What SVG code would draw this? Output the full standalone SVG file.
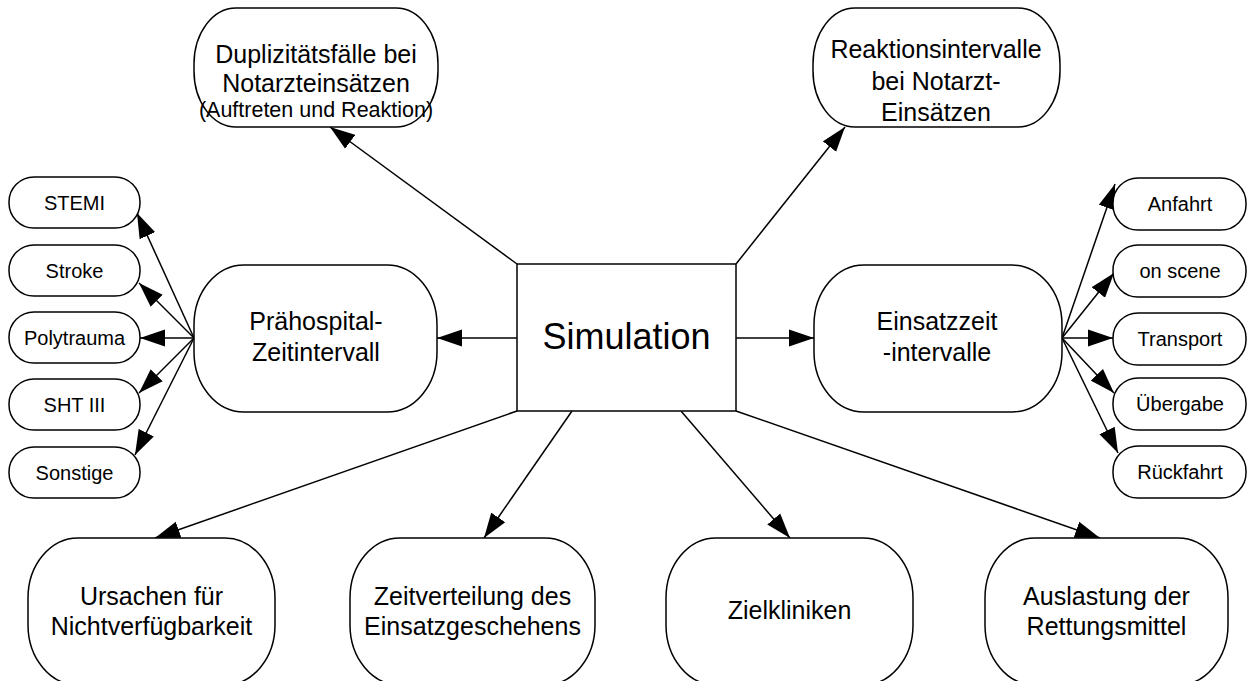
<svg xmlns="http://www.w3.org/2000/svg" width="1247" height="681" viewBox="0 0 1247 681">
<defs>
<style>
.n{fill:#fff;stroke:#000;stroke-width:1.5}
.t{font-family:"Liberation Sans",Arial,sans-serif;fill:#000;text-anchor:middle}
.b{font-size:25px}
.s{font-size:20px}
.c{stroke:#000;stroke-width:1.5;fill:none;marker-end:url(#ah)}
</style>
<marker id="ah" markerUnits="userSpaceOnUse" markerWidth="25" markerHeight="18" refX="25" refY="9" orient="auto">
<path d="M0,0.5 L25,9 L0,17.5 z" fill="#000"/>
</marker>
</defs>
<rect width="1247" height="681" fill="#fff"/>
<g id="connectors">
<line class="c" x1="517" y1="264" x2="330" y2="127"/>
<line class="c" x1="736" y1="264" x2="845" y2="127"/>
<line class="c" x1="517" y1="338" x2="437" y2="338"/>
<line class="c" x1="736" y1="338" x2="814" y2="338"/>
<line class="c" x1="517" y1="411" x2="155" y2="538"/>
<line class="c" x1="572" y1="411" x2="484" y2="538"/>
<line class="c" x1="681" y1="411" x2="790" y2="538"/>
<line class="c" x1="736" y1="411" x2="1100" y2="538"/>
<line class="c" x1="194" y1="338" x2="137" y2="213"/>
<line class="c" x1="194" y1="338" x2="139" y2="283"/>
<line class="c" x1="194" y1="338" x2="140" y2="338"/>
<line class="c" x1="194" y1="338" x2="139" y2="393"/>
<line class="c" x1="194" y1="338" x2="135" y2="455"/>
<line class="c" x1="1062" y1="338" x2="1115" y2="184"/>
<line class="c" x1="1062" y1="338" x2="1114" y2="273"/>
<line class="c" x1="1062" y1="338" x2="1113" y2="338"/>
<line class="c" x1="1062" y1="338" x2="1114" y2="393"/>
<line class="c" x1="1062" y1="338" x2="1118" y2="453"/>
</g>
<g id="simulation">
<rect class="n" x="517" y="264" width="219" height="147"/>
<text class="t" x="626.5" y="349" font-size="36">Simulation</text>
</g>
<g id="duplizitaet">
<rect class="n" x="194" y="8" width="244" height="119" rx="42" ry="56"/>
<text class="t b" x="316" y="63">Duplizitätsfälle bei</text>
<text class="t b" x="316" y="92">Notarzteinsätzen</text>
<text class="t" x="316" y="117" font-size="21.5">(Auftreten und Reaktion)</text>
</g>
<g id="reaktion">
<rect class="n" x="813" y="8" width="247" height="119" rx="42" ry="56"/>
<text class="t b" x="936" y="58">Reaktionsintervalle</text>
<text class="t b" x="936" y="90">bei Notarzt-</text>
<text class="t b" x="936" y="121">Einsätzen</text>
</g>
<g id="praehospital">
<rect class="n" x="194" y="265" width="243" height="147" rx="50" ry="60"/>
<text class="t b" x="316" y="330">Prähospital-</text>
<text class="t b" x="316" y="361">Zeitintervall</text>
</g>
<g id="einsatzzeit">
<rect class="n" x="814" y="265" width="248" height="147" rx="50" ry="60"/>
<text class="t b" x="937" y="330">Einsatzzeit</text>
<text class="t b" x="937" y="361">-intervalle</text>
</g>
<g id="stemi"><rect class="n" x="9" y="177" width="131" height="51" rx="25" ry="25"/><text class="t s" x="74.5" y="209.5">STEMI</text></g>
<g id="stroke"><rect class="n" x="9" y="245" width="131" height="51" rx="25" ry="25"/><text class="t s" x="74.5" y="277.5">Stroke</text></g>
<g id="polytrauma"><rect class="n" x="9" y="312" width="131" height="51" rx="25" ry="25"/><text class="t s" x="74.5" y="344.5">Polytrauma</text></g>
<g id="sht"><rect class="n" x="9" y="379" width="131" height="51" rx="25" ry="25"/><text class="t s" x="74.5" y="411.5">SHT III</text></g>
<g id="sonstige"><rect class="n" x="9" y="447" width="131" height="51" rx="25" ry="25"/><text class="t s" x="74.5" y="479.5">Sonstige</text></g>
<g id="anfahrt"><rect class="n" x="1113" y="178" width="133" height="52" rx="25" ry="25"/><text class="t s" x="1180" y="211">Anfahrt</text></g>
<g id="onscene"><rect class="n" x="1113" y="245" width="133" height="52" rx="25" ry="25"/><text class="t s" x="1180" y="278">on scene</text></g>
<g id="transport"><rect class="n" x="1113" y="313" width="133" height="52" rx="25" ry="25"/><text class="t s" x="1180" y="346">Transport</text></g>
<g id="uebergabe"><rect class="n" x="1113" y="378" width="133" height="52" rx="25" ry="25"/><text class="t s" x="1180" y="411">Übergabe</text></g>
<g id="rueckfahrt"><rect class="n" x="1113" y="446" width="133" height="52" rx="25" ry="25"/><text class="t s" x="1180" y="479">Rückfahrt</text></g>
<g id="ursachen">
<rect class="n" x="28" y="538" width="247" height="147" rx="50" ry="60"/>
<text class="t b" x="151.5" y="605">Ursachen für</text>
<text class="t b" x="151.5" y="635">Nichtverfügbarkeit</text>
</g>
<g id="zeitverteilung">
<rect class="n" x="350" y="538" width="245" height="147" rx="50" ry="60"/>
<text class="t b" x="472.5" y="605">Zeitverteilung des</text>
<text class="t b" x="472.5" y="635">Einsatzgeschehens</text>
</g>
<g id="zielkliniken">
<rect class="n" x="666" y="538" width="247" height="147" rx="50" ry="60"/>
<text class="t b" x="789.5" y="619">Zielkliniken</text>
</g>
<g id="auslastung">
<rect class="n" x="985" y="538" width="243" height="147" rx="50" ry="60"/>
<text class="t b" x="1106.5" y="605">Auslastung der</text>
<text class="t b" x="1106.5" y="635">Rettungsmittel</text>
</g>
</svg>
